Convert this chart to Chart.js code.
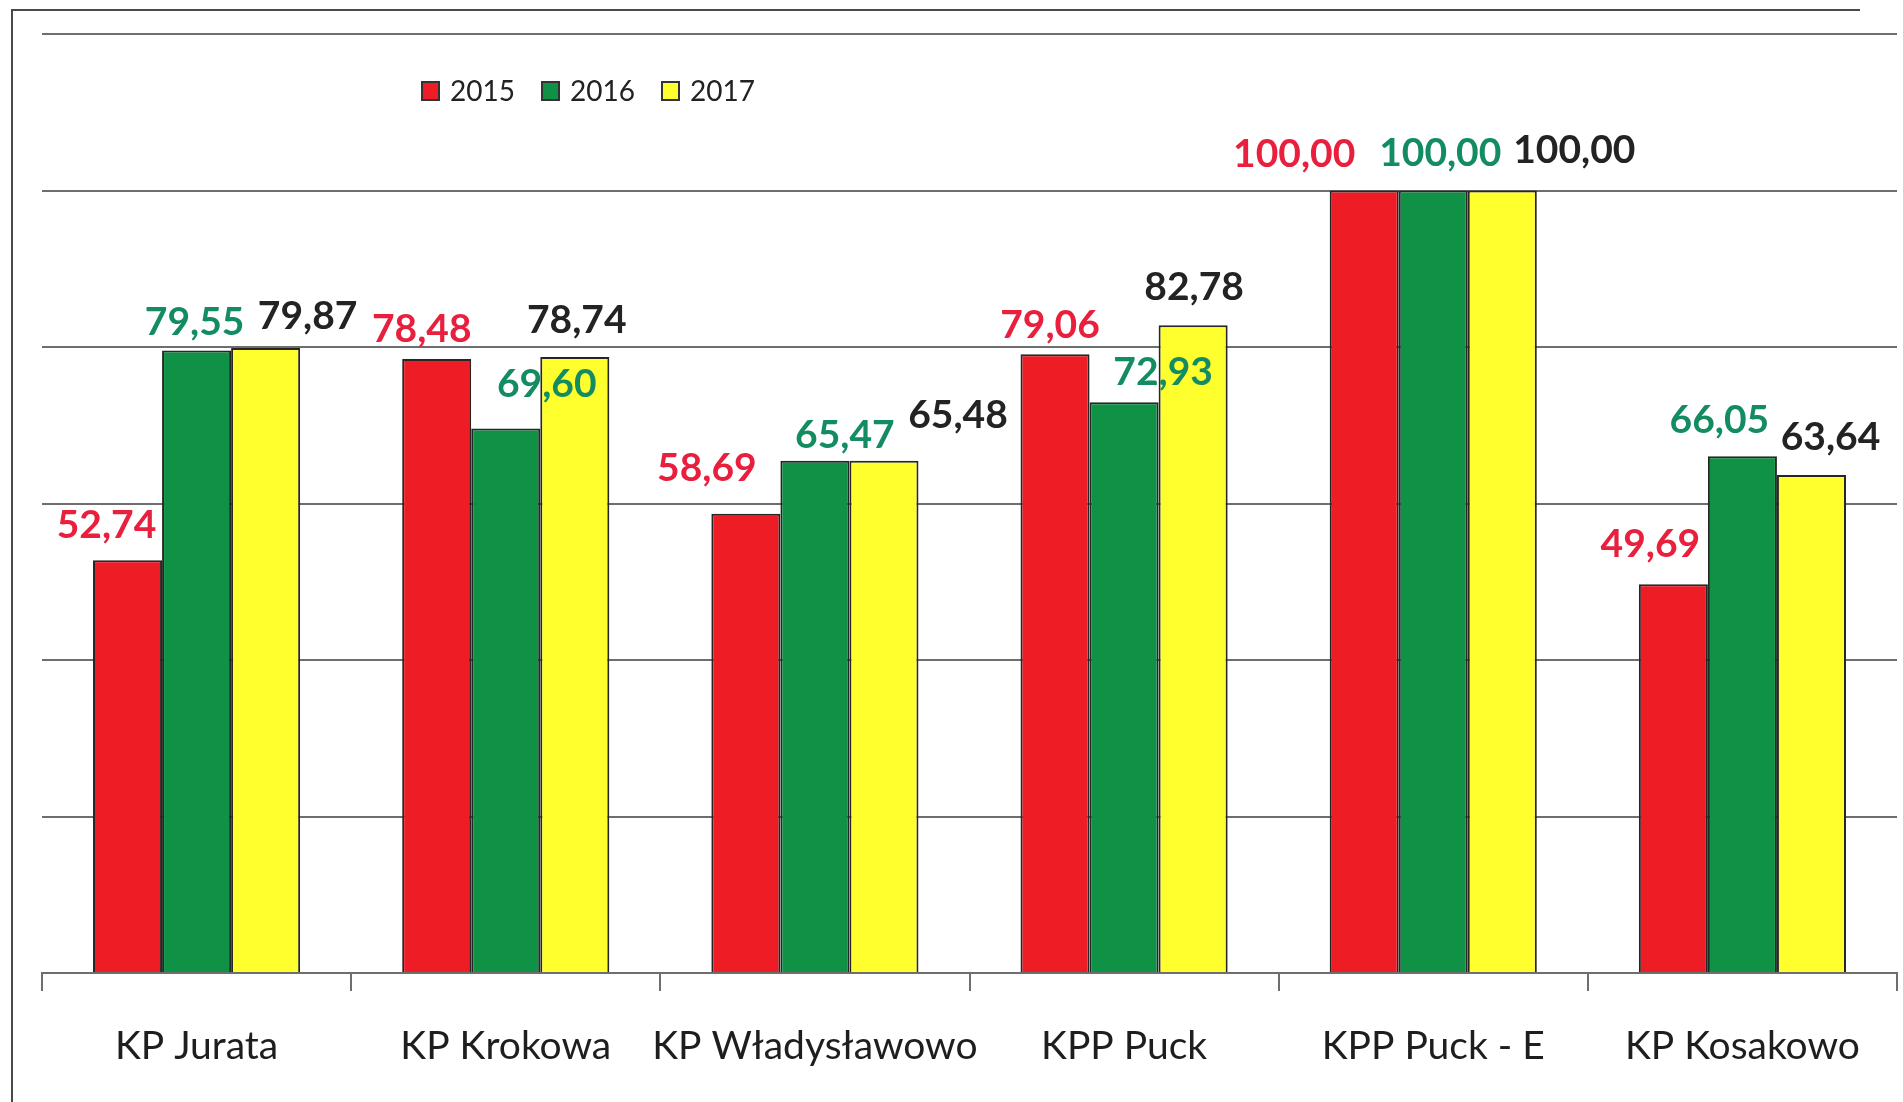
<!DOCTYPE html>
<html>
<head>
<meta charset="utf-8">
<script src="https://cdn.jsdelivr.net/npm/chart.js@4/dist/chart.umd.min.js"></script>
<style>
  body { margin: 0; background: #fff; }
  #chart { display: block; }
</style>
</head>
<body>
<canvas id="chart" width="1903" height="1102"></canvas>
<script>
// kategorie i wartości
const categories = ["KP Jurata", "KP Krokowa", "KP Władysławowo", "KPP Puck", "KPP Puck - E", "KP Kosakowo"];
const seriesNames = ["2015", "2016", "2017"];
const values2015 = [52.74, 78.48, 58.69, 79.06, 100.00, 49.69];
const values2016 = [79.55, 69.60, 65.47, 72.93, 100.00, 66.05];
const values2017 = [79.87, 78.74, 65.48, 82.78, 100.00, 63.64];
const yTicks = [0, 20, 40, 60, 80, 100, 120];

// przesunięcia etykiet (ręcznie przesunięte w oryginale)
const labelDx = [
  [-21, -15, -39, -5, -70, -23],
  [-2, 41, 30, 39, 7, -23],
  [42, 2, 74, 1, 72, 19]
];
const labelDy = [
  [35, 29, 45, 29, 36, 40],
  [28, 44, 25, 30, 37, 36],
  [32, 36, 45, 38, 40, 38]
];

const barColors = ['#ee1c25', '#0f9246', '#ffff2e'];
const labelColors = ['#e8203e', '#138c62', '#232323'];
const gridColor = '#6e6e6e';
const fontFamily = 'Lato, "Open Sans", sans-serif';

// etykiety wartości nad słupkami
const valueLabels = {
  id: 'valueLabels',
  afterDatasetsDraw(chart) {
    const ctx = chart.ctx;
    ctx.save();
    ctx.font = 'bold 39px ' + fontFamily;
    ctx.textAlign = 'center';
    ctx.textBaseline = 'middle';
    chart.data.datasets.forEach((ds, i) => {
      const meta = chart.getDatasetMeta(i);
      meta.data.forEach((bar, j) => {
        const txt = ds.data[j].toFixed(2).replace('.', ',');
        ctx.fillStyle = labelColors[i];
        ctx.fillText(txt, bar.x + labelDx[i][j], bar.y - labelDy[i][j]);
      });
    });
    ctx.restore();
  }
};

// legenda w lewym górnym rogu + ramka
const customLegend = {
  id: 'customLegend',
  beforeDraw(chart) {
    const ctx = chart.ctx;
    ctx.save();
    ctx.strokeStyle = '#4a4a4a';
    ctx.lineWidth = 2;
    ctx.beginPath();
    ctx.moveTo(12, chart.height);
    ctx.lineTo(12, 10);
    ctx.lineTo(1860, 10);
    ctx.stroke();
    ctx.restore();
  },
  afterDraw(chart) {
    const ctx = chart.ctx;
    ctx.save();
    ctx.font = '28px ' + fontFamily;
    ctx.textBaseline = 'middle';
    let x = 422;
    const y = 91;
    chart.data.datasets.forEach((ds, i) => {
      ctx.fillStyle = barColors[i];
      ctx.fillRect(x, y - 9, 17, 18);
      ctx.strokeStyle = '#333';
      ctx.lineWidth = 2;
      ctx.strokeRect(x, y - 9, 17, 18);
      ctx.fillStyle = '#222';
      ctx.fillText(ds.label, x + 28, y + 1);
      x += 120;
    });
    ctx.restore();
  }
};

const allValues = [values2015, values2016, values2017];

new Chart(document.getElementById('chart'), {
  type: 'bar',
  data: {
    labels: categories,
    datasets: seriesNames.map((name, i) => ({
      label: name,
      data: allValues[i],
      backgroundColor: barColors[i],
      borderColor: '#262626',
      borderWidth: 2,
      barPercentage: 1.0,
      categoryPercentage: 0.67
    }))
  },
  options: {
    responsive: false,
    animation: false,
    layout: { padding: { top: 34, left: 42, right: 6, bottom: 0 } },
    plugins: {
      legend: { display: false },
      tooltip: { enabled: false }
    },
    scales: {
      x: {
        grid: { offset: true, drawOnChartArea: false, color: gridColor, lineWidth: 2, tickLength: 18 },
        border: { color: gridColor, width: 2 },
        ticks: { color: '#1e1e1e', font: { family: fontFamily, size: 39, lineHeight: 1.05 }, padding: 35, maxRotation: 0, minRotation: 0, autoSkip: false }
      },
      y: {
        min: 0,
        max: 120,
        afterBuildTicks(axis) { axis.ticks = yTicks.map(v => ({ value: v })); },
        grid: { color: gridColor, lineWidth: 2, drawTicks: false },
        border: { display: false },
        ticks: { display: false }
      }
    }
  },
  plugins: [valueLabels, customLegend]
});
</script>
</body>
</html>
